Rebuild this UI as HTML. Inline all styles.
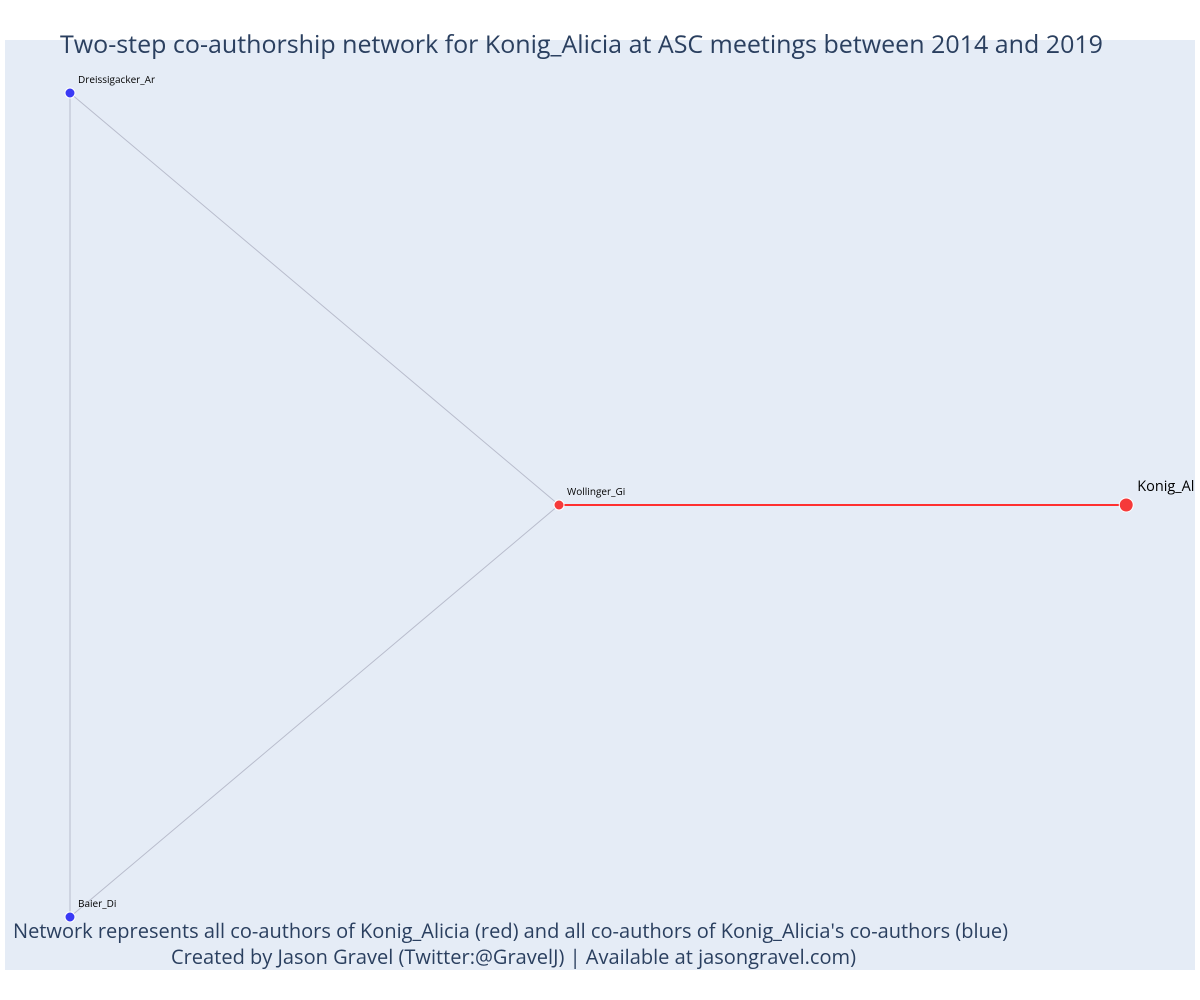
<!DOCTYPE html>
<html><head><meta charset="utf-8"><style>
body{margin:0;background:#fff;}
svg{display:block;font-family:"Open Sans","Liberation Sans",sans-serif;}
</style></head><body>
<svg id="chart" width="1200" height="1000">
<defs><clipPath id="plotclip"><rect x="5" y="40" width="1190" height="930"/></clipPath></defs>
<rect x="5" y="40" width="1190" height="930" fill="#e5ecf6"/>
<g id="edges" clip-path="url(#plotclip)"></g>
<g id="nodes" clip-path="url(#plotclip)"></g>
<text x="60" y="53" font-size="25" fill="#2a3f5f" textLength="1043" lengthAdjust="spacingAndGlyphs">Two-step co-authorship network for Konig_Alicia at ASC meetings between 2014 and 2019</text>
<text x="13" y="938" font-size="20" fill="#2a3f5f" textLength="995" lengthAdjust="spacingAndGlyphs">Network represents all co-authors of Konig_Alicia (red) and all co-authors of Konig_Alicia's co-authors (blue)</text>
<text x="171" y="964" font-size="20" fill="#2a3f5f" textLength="685" lengthAdjust="spacingAndGlyphs">Created by Jason Gravel (Twitter:@GravelJ) | Available at jasongravel.com)</text>
</svg>
<script>
const nodeNames = ["Dreissigacker_Ar","Baier_Di","Wollinger_Gi","Konig_Al"];
const nodeX = [-1,-1,0,1.16];
const nodeY = [1,-1,0,0];
const nodeGroup = ["blue","blue","red","ego"];
const edgeFrom = [0,0,1,2];
const edgeTo = [1,2,2,3];
const edgeType = ["grey","grey","grey","red"];
function xs(v){return 559+v*489;}
function ys(v){return 505-v*412;}
const NS="http://www.w3.org/2000/svg";
const eg=document.getElementById('edges'), ng=document.getElementById('nodes');
for(let i=0;i<edgeFrom.length;i++){
  const l=document.createElementNS(NS,'line');
  l.setAttribute('x1',xs(nodeX[edgeFrom[i]]));l.setAttribute('y1',ys(nodeY[edgeFrom[i]]));
  l.setAttribute('x2',xs(nodeX[edgeTo[i]]));l.setAttribute('y2',ys(nodeY[edgeTo[i]]));
  l.setAttribute('stroke',edgeType[i]==='red'?'#ff3030':'#b8bccc');
  l.setAttribute('stroke-width',edgeType[i]==='red'?2:1);
  
  
  eg.appendChild(l);
}
for(let i=0;i<nodeNames.length;i++){
  const x=xs(nodeX[i]),y=ys(nodeY[i]);
  const big=nodeGroup[i]==='ego';
  const c=document.createElementNS(NS,'circle');
  c.setAttribute('cx',x);c.setAttribute('cy',y);c.setAttribute('r',big?7:5);
  c.setAttribute('fill',nodeGroup[i]==='blue'?'#3a3af5':'#f53a3a');
  c.setAttribute('stroke','#fff');c.setAttribute('stroke-width',1);
  
  
  ng.appendChild(c);
  const t=document.createElementNS(NS,'text');
  t.setAttribute('x',x+(big?11:8));t.setAttribute('y',y+(big?-14:-10));
  t.setAttribute('font-size',big?14.5:10);t.setAttribute('fill','#000');
  t.textContent=nodeNames[i];
  
  
  ng.appendChild(t);
}
</script>
</body></html>
